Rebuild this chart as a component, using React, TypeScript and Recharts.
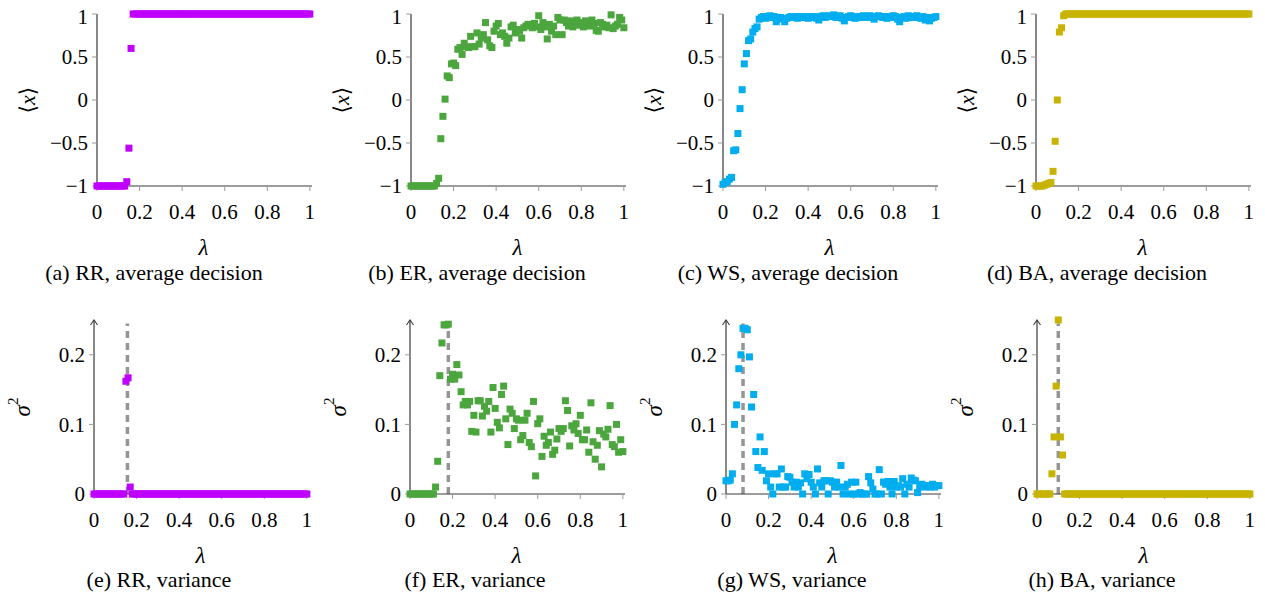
import React from "react";
import { ScatterChart, Scatter, XAxis, YAxis, ReferenceLine, Label } from "recharts";

// λ grid (step 0.01)
const LAMBDA = [
  0, 0.01, 0.02, 0.03, 0.04, 0.05, 0.06, 0.07, 0.08, 0.09,
  0.1, 0.11, 0.12, 0.13, 0.14, 0.15, 0.16, 0.17, 0.18, 0.19,
  0.2, 0.21, 0.22, 0.23, 0.24, 0.25, 0.26, 0.27, 0.28, 0.29,
  0.3, 0.31, 0.32, 0.33, 0.34, 0.35, 0.36, 0.37, 0.38, 0.39,
  0.4, 0.41, 0.42, 0.43, 0.44, 0.45, 0.46, 0.47, 0.48, 0.49,
  0.5, 0.51, 0.52, 0.53, 0.54, 0.55, 0.56, 0.57, 0.58, 0.59,
  0.6, 0.61, 0.62, 0.63, 0.64, 0.65, 0.66, 0.67, 0.68, 0.69,
  0.7, 0.71, 0.72, 0.73, 0.74, 0.75, 0.76, 0.77, 0.78, 0.79,
  0.8, 0.81, 0.82, 0.83, 0.84, 0.85, 0.86, 0.87, 0.88, 0.89,
  0.9, 0.91, 0.92, 0.93, 0.94, 0.95, 0.96, 0.97, 0.98, 0.99,
  1,
];

// average decision <x>
const RR_MEAN = [
  -1, -1, -1, -1, -1, -1, -1, -1, -1, -1,
  -1, -1, -1, -1, -0.95, -0.56, 0.6, 1, 1, 1,
  1, 1, 1, 1, 1, 1, 1, 1, 1, 1,
  1, 1, 1, 1, 1, 1, 1, 1, 1, 1,
  1, 1, 1, 1, 1, 1, 1, 1, 1, 1,
  1, 1, 1, 1, 1, 1, 1, 1, 1, 1,
  1, 1, 1, 1, 1, 1, 1, 1, 1, 1,
  1, 1, 1, 1, 1, 1, 1, 1, 1, 1,
  1, 1, 1, 1, 1, 1, 1, 1, 1, 1,
  1, 1, 1, 1, 1, 1, 1, 1, 1, 1,
  1,
];
const ER_MEAN = [
  -1, -1, -1, -1, -1, -1, -1, -1, -1, -1,
  -1, -1, -0.97, -0.91, -0.45, -0.19, 0.01, 0.28, 0.26, 0.42,
  0.43, 0.4, 0.59, 0.61, 0.53, 0.66, 0.62, 0.61, 0.74, 0.62,
  0.62, 0.78, 0.65, 0.72, 0.76, 0.9, 0.7, 0.63, 0.61, 0.8,
  0.86, 0.89, 0.76, 0.78, 0.74, 0.66, 0.72, 0.85, 0.87, 0.78,
  0.82, 0.8, 0.72, 0.84, 0.86, 0.88, 0.87, 0.84, 0.89, 0.85,
  0.98, 0.82, 0.9, 0.85, 0.71, 0.88, 0.8, 0.86, 0.76, 0.96,
  0.93, 0.76, 0.93, 0.9, 0.86, 0.92, 0.85, 0.89, 0.93, 0.87,
  0.9, 0.85, 0.92, 0.88, 0.86, 0.93, 0.89, 0.81, 0.8, 0.9,
  0.88, 0.85, 0.87, 0.84, 0.99, 0.83, 0.86, 0.88, 0.96, 0.93,
  0.84,
];
const WS_MEAN = [
  -0.98, -0.96, -0.95, -0.92, -0.9, -0.59, -0.58, -0.39, -0.1, 0.12,
  0.42, 0.54, 0.69, 0.71, 0.79, 0.83, 0.85, 0.94, 0.96, 0.97,
  0.95, 0.97, 0.98, 0.96, 0.97, 0.91, 0.95, 0.96, 0.94, 0.91,
  0.95, 0.96, 0.97, 0.96, 0.97, 0.95, 0.97, 0.96, 0.97, 0.96,
  0.95, 0.97, 0.96, 0.97, 0.95, 0.93, 0.97, 0.98, 0.96, 0.97,
  0.98, 0.97, 0.99, 0.96, 0.97, 0.98, 0.95, 0.92, 0.96, 0.97,
  0.98, 0.96, 0.95, 0.97, 0.96, 0.97, 0.98, 0.96, 0.97, 0.98,
  0.96, 0.94, 0.97, 0.98, 0.97, 0.96, 0.97, 0.95, 0.97, 0.96,
  0.98, 0.97, 0.94, 0.91, 0.96, 0.97, 0.95, 0.98, 0.97, 0.96,
  0.97, 0.98, 0.96, 0.95, 0.97, 0.93, 0.96, 0.92, 0.95, 0.96,
  0.97,
];
const BA_MEAN = [
  -1, -1, -1, -1, -0.99, -0.98, -0.97, -0.96, -0.83, -0.48,
  0, 0.79, 0.84, 0.98, 1, 1, 1, 1, 1, 1,
  1, 1, 1, 1, 1, 1, 1, 1, 1, 1,
  1, 1, 1, 1, 1, 1, 1, 1, 1, 1,
  1, 1, 1, 1, 1, 1, 1, 1, 1, 1,
  1, 1, 1, 1, 1, 1, 1, 1, 1, 1,
  1, 1, 1, 1, 1, 1, 1, 1, 1, 1,
  1, 1, 1, 1, 1, 1, 1, 1, 1, 1,
  1, 1, 1, 1, 1, 1, 1, 1, 1, 1,
  1, 1, 1, 1, 1, 1, 1, 1, 1, 1,
  1,
];

// variance σ²
const RR_VAR = [
  0, 0, 0, 0, 0, 0, 0, 0, 0, 0,
  0, 0, 0, 0, 0, 0.162, 0.167, 0.01, 0, 0,
  0, 0, 0, 0, 0, 0, 0, 0, 0, 0,
  0, 0, 0, 0, 0, 0, 0, 0, 0, 0,
  0, 0, 0, 0, 0, 0, 0, 0, 0, 0,
  0, 0, 0, 0, 0, 0, 0, 0, 0, 0,
  0, 0, 0, 0, 0, 0, 0, 0, 0, 0,
  0, 0, 0, 0, 0, 0, 0, 0, 0, 0,
  0, 0, 0, 0, 0, 0, 0, 0, 0, 0,
  0, 0, 0, 0, 0, 0, 0, 0, 0, 0,
  0,
];
const ER_VAR = [
  0, 0, 0, 0, 0, 0, 0, 0, 0, 0,
  0, 0, 0.01, 0.047, 0.17, 0.217, 0.243, 0.243, 0.244, 0.165,
  0.172, 0.165, 0.186, 0.171, 0.147, 0.128, 0.133, 0.128, 0.133, 0.09,
  0.113, 0.089, 0.134, 0.134, 0.112, 0.126, 0.119, 0.133, 0.089, 0.153,
  0.123, 0.103, 0.095, 0.143, 0.155, 0.108, 0.071, 0.122, 0.116, 0.094,
  0.108, 0.106, 0.078, 0.084, 0.106, 0.116, 0.074, 0.068, 0.133, 0.026,
  0.101, 0.108, 0.054, 0.083, 0.07, 0.074, 0.089, 0.057, 0.063, 0.079,
  0.094, 0.09, 0.094, 0.134, 0.12, 0.069, 0.098, 0.092, 0.101, 0.087,
  0.113, 0.078, 0.078, 0.092, 0.06, 0.131, 0.075, 0.05, 0.07, 0.091,
  0.039, 0.086, 0.082, 0.093, 0.127, 0.071, 0.068, 0.1, 0.06, 0.078,
  0.061,
];
const WS_VAR = [
  0.019, 0.019, 0.02, 0.029, 0.1, 0.128, 0.18, 0.2, 0.238, 0.238,
  0.236, 0.197, 0.125, 0.143, 0.061, 0.038, 0.082, 0.034, 0.061, 0.019,
  0.029, 0.01, 0, 0.029, 0.029, 0.01, 0.036, 0.01, 0.01, 0.025,
  0.024, 0.017, 0.01, 0.017, 0.01, 0.016, 0, 0.029, 0.022, 0.028,
  0.017, 0.01, 0, 0.036, 0.016, 0.01, 0.019, 0.019, 0, 0.019,
  0.017, 0.01, 0.017, 0.01, 0.041, 0, 0.01, 0.014, 0, 0.017,
  0, 0.017, 0, 0.002, 0, 0, 0, 0.025, 0.016, 0.007,
  0, 0, 0.035, 0, 0.017, 0.014, 0.018, 0.01, 0, 0.018,
  0.01, 0.012, 0.01, 0.022, 0, 0.014, 0.01, 0.023, 0.02, 0.019,
  0.002, 0.01, 0.014, 0.012, 0.01, 0.012, 0.01, 0.014, 0.01, 0.012,
  0.012,
];
const BA_VAR = [
  0, 0, 0, 0, 0, 0, 0, 0.029, 0.082, 0.155,
  0.25, 0.082, 0.056, 0, 0, 0, 0, 0, 0, 0,
  0, 0, 0, 0, 0, 0, 0, 0, 0, 0,
  0, 0, 0, 0, 0, 0, 0, 0, 0, 0,
  0, 0, 0, 0, 0, 0, 0, 0, 0, 0,
  0, 0, 0, 0, 0, 0, 0, 0, 0, 0,
  0, 0, 0, 0, 0, 0, 0, 0, 0, 0,
  0, 0, 0, 0, 0, 0, 0, 0, 0, 0,
  0, 0, 0, 0, 0, 0, 0, 0, 0, 0,
  0, 0, 0, 0, 0, 0, 0, 0, 0, 0,
  0,
];

// critical λ (dashed lines in the variance plots): RR, ER, WS, BA
const CRITICAL = [0.157, 0.18, 0.08, 0.1];

const NETWORKS = ["RR", "ER", "WS", "BA"];
const LETTERS_TOP = ["a", "b", "c", "d"];
const LETTERS_BOTTOM = ["e", "f", "g", "h"];
const COLORS = ["#c000ff", "#4ca63e", "#00adef", "#c8b400"];

const X_TICKS = [0, 0.2, 0.4, 0.6, 0.8, 1];
const MEAN_TICKS = [-1, -0.5, 0, 0.5, 1];
const VAR_TICKS = [0, 0.1, 0.2];

const FONT = "'Liberation Serif', 'DejaVu Serif', serif";
const AXIS_COLOR = "#3a3a3a";
const TICK_COLOR = "#9a9a9a";

// layout
const Y_AXIS_W = 100;
const PLOT_W = 215;
const MARGIN_TOP = 10;
const MARGIN_RIGHT = 10;
const X_AXIS_H = 75;

const TOP_ROW = { plotTop: 14, plotH: 172, x0: [97, 411, 723, 1036], capX: [154, 477, 788, 1097], capY: 273 };
const BOTTOM_ROW = { plotTop: 319.5, plotH: 174, x0: [94.3, 410, 725.7, 1036.7], capX: [159, 475, 792, 1102], capY: 580 };

const fmt = (v: number) => (v < 0 ? `\u2212${Math.abs(v)}` : `${v}`);

const square = (color: string) => (props: any) =>
  props.cx == null ? <g /> : <rect x={props.cx - 3.5} y={props.cy - 3.5} width={7} height={7} fill={color} />;

const lambdaLabel = (props: any) => {
  const vb = props.viewBox;
  const cx = vb.x + (vb.width / 1.01) / 2;
  const cy = vb.y + 61;
  return (
    <text x={cx} y={cy} textAnchor="middle" dominantBaseline="central" fontFamily={FONT} fontSize={23} fontStyle="italic" fill="#000">
      λ
    </text>
  );
};

const meanLabel = (props: any) => {
  const vb = props.viewBox;
  const cx = vb.x + vb.width - 70;
  const cy = vb.y + vb.height / 2;
  return (
    <text x={cx} y={cy} transform={`rotate(-90 ${cx} ${cy})`} textAnchor="middle" dominantBaseline="central" fontFamily={FONT} fontSize={22} fill="#000">
      ⟨<tspan fontStyle="italic">x</tspan>⟩
    </text>
  );
};

const varLabel = (props: any) => {
  const vb = props.viewBox;
  const cx = vb.x + vb.width - 72;
  const cy = vb.y + vb.height / 2;
  return (
    <text x={cx} y={cy} transform={`rotate(-90 ${cx} ${cy})`} textAnchor="middle" dominantBaseline="central" fontFamily={FONT} fontSize={23} fill="#000">
      <tspan fontStyle="italic">σ</tspan>
      <tspan fontSize={15} dy={-9}>2</tspan>
    </text>
  );
};

// y axis line with an arrow head on top
const arrowAxis = (props: any) => {
  const x = props.x1;
  const top = Math.min(props.y1, props.y2);
  const bottom = Math.max(props.y1, props.y2);
  return (
    <g>
      <line x1={x} y1={bottom} x2={x} y2={top} stroke={AXIS_COLOR} strokeWidth={1.2} />
      <path d={`M${x - 3.5},${top + 5} L${x},${top} L${x + 3.5},${top + 5}`} fill="none" stroke={AXIS_COLOR} strokeWidth={1.1} />
    </g>
  );
};

type PanelProps = {
  values: number[];
  color: string;
  kind: "mean" | "var";
  x0: number;
  plotTop: number;
  plotH: number;
  critical?: number;
};

function Panel({ values, color, kind, x0, plotTop, plotH, critical }: PanelProps) {
  const data = LAMBDA.map((l, i) => ({ l, v: values[i] }));
  const isMean = kind === "mean";
  const width = Y_AXIS_W + PLOT_W + MARGIN_RIGHT;
  const height = MARGIN_TOP + plotH + X_AXIS_H;
  const tickStyle = { fontFamily: FONT, fontSize: 21, fill: "#000" };
  return (
    <div style={{ position: "absolute", left: x0 - Y_AXIS_W, top: plotTop - MARGIN_TOP }}>
      <ScatterChart width={width} height={height} margin={{ top: MARGIN_TOP, right: MARGIN_RIGHT, bottom: 0, left: 0 }}>
        <XAxis
          dataKey="l"
          type="number"
          domain={[0, 1.01]}
          ticks={X_TICKS}
          tickFormatter={fmt}
          height={X_AXIS_H}
          tick={tickStyle}
          tickSize={5}
          tickMargin={13}
          tickLine={{ stroke: TICK_COLOR }}
          axisLine={{ stroke: AXIS_COLOR, strokeWidth: 1.2 }}
        >
          <Label content={lambdaLabel} />
        </XAxis>
        <YAxis
          dataKey="v"
          type="number"
          domain={isMean ? [-1, 1] : [0, 0.25]}
          ticks={isMean ? MEAN_TICKS : VAR_TICKS}
          tickFormatter={fmt}
          width={Y_AXIS_W}
          tick={tickStyle}
          tickSize={5}
          tickMargin={4}
          tickLine={{ stroke: TICK_COLOR }}
          axisLine={isMean ? { stroke: AXIS_COLOR, strokeWidth: 1.2 } : false}
        >
          <Label content={isMean ? meanLabel : varLabel} />
        </YAxis>
        {critical != null && (
          <ReferenceLine
            segment={[
              { x: critical, y: 0 },
              { x: critical, y: 0.245 },
            ]}
            stroke="#959595"
            strokeWidth={3.5}
            strokeDasharray="7 5"
          />
        )}
        <Scatter data={data} isAnimationActive={false} shape={square(color)} />
        {!isMean && <ReferenceLine x={0} shape={arrowAxis} />}
      </ScatterChart>
    </div>
  );
}

const MEANS = [RR_MEAN, ER_MEAN, WS_MEAN, BA_MEAN];
const VARS = [RR_VAR, ER_VAR, WS_VAR, BA_VAR];

function Caption({ x, y, text }: { x: number; y: number; text: string }) {
  return (
    <div
      style={{
        position: "absolute",
        left: x - 150,
        top: y - 13,
        width: 300,
        height: 26,
        lineHeight: "26px",
        textAlign: "center",
        fontFamily: FONT,
        fontSize: 22,
        color: "#000",
        whiteSpace: "nowrap",
      }}
    >
      {text}
    </div>
  );
}

export default function App() {
  return (
    <div style={{ position: "absolute", left: 0, top: 0, width: 1265, height: 595, background: "#fff", overflow: "hidden" }}>
      {NETWORKS.map((net, i) => (
        <React.Fragment key={net}>
          <Panel values={MEANS[i]} color={COLORS[i]} kind="mean" x0={TOP_ROW.x0[i]} plotTop={TOP_ROW.plotTop} plotH={TOP_ROW.plotH} />
          <Caption x={TOP_ROW.capX[i]} y={TOP_ROW.capY} text={`(${LETTERS_TOP[i]}) ${net}, average decision`} />
          <Panel
            values={VARS[i]}
            color={COLORS[i]}
            kind="var"
            x0={BOTTOM_ROW.x0[i]}
            plotTop={BOTTOM_ROW.plotTop}
            plotH={BOTTOM_ROW.plotH}
            critical={CRITICAL[i]}
          />
          <Caption x={BOTTOM_ROW.capX[i]} y={BOTTOM_ROW.capY} text={`(${LETTERS_BOTTOM[i]}) ${net}, variance`} />
        </React.Fragment>
      ))}
    </div>
  );
}
